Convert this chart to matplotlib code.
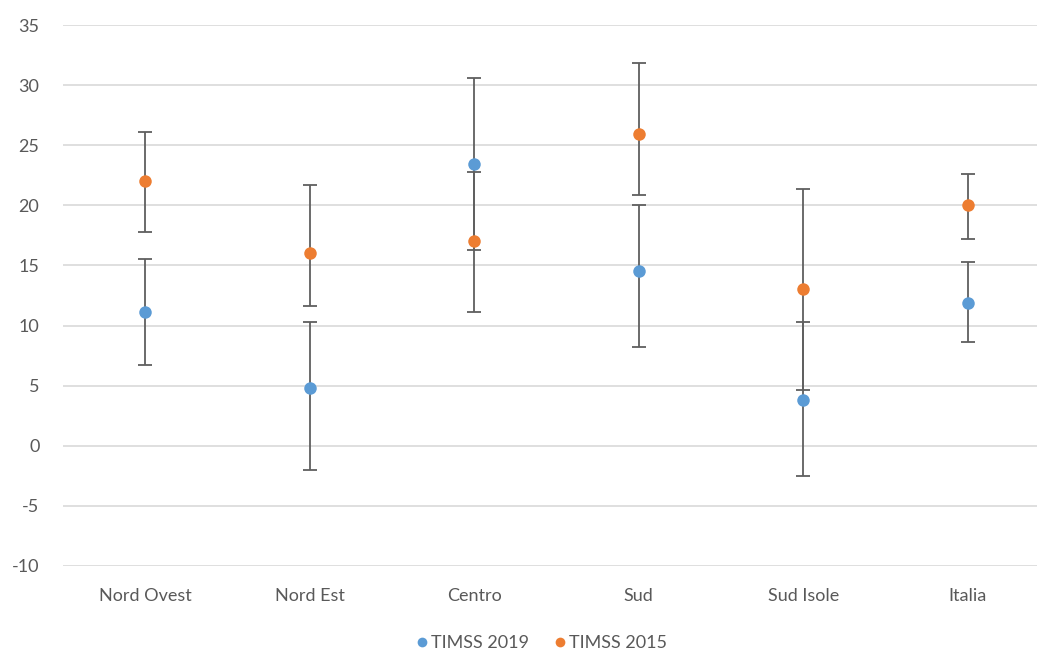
import matplotlib
matplotlib.use("Agg")
import matplotlib.pyplot as plt
import numpy as np

categories = ["Nord Ovest", "Nord Est", "Centro", "Sud", "Sud Isole", "Italia"]
t2019 = [11.1, 4.8, 23.4, 14.5, 3.8, 11.9]
t2019_hi = [15.5, 10.3, 30.6, 20.0, 10.3, 15.3]
t2019_lo = [6.7, -2.0, 16.3, 8.2, -2.5, 8.65]
t2015 = [22.0, 16.0, 17.0, 25.9, 13.0, 20.0]
t2015_hi = [26.1, 21.7, 22.8, 31.8, 21.4, 22.6]
t2015_lo = [17.8, 11.6, 11.15, 20.9, 4.6, 17.2]

plt.rcParams['font.family'] = ['Lato', 'DejaVu Sans']
plt.rcParams['axes.unicode_minus'] = False

fig = plt.figure(figsize=(10.37, 6.53), dpi=100)
ax = fig.add_axes([63/1037, 87/653, 987/1037, 541/653])

x = np.arange(len(categories))
blue = "#5B9BD5"
orange = "#ED7D31"
errc = "#5f5f5f"

def draw(vals, hi, lo, color, label):
    vals = np.array(vals); hi = np.array(hi); lo = np.array(lo)
    ax.errorbar(x, vals, yerr=[vals - lo, hi - vals], fmt='none',
                ecolor=errc, elinewidth=1.3, capsize=5, capthick=1.3, zorder=2)
    ax.plot(x, vals, 'o', color=color, markersize=9, markeredgewidth=0,
            label=label, zorder=3)

draw(t2019, t2019_hi, t2019_lo, blue, "TIMSS 2019")
draw(t2015, t2015_hi, t2015_lo, orange, "TIMSS 2015")

ax.set_xlim(-0.5, len(categories) - 0.5)
ax.set_ylim(-10, 35)
ax.set_yticks(np.arange(-10, 36, 5))
ax.set_xticks(x)
ax.set_xticklabels(categories)
ax.yaxis.grid(True, color="#d9d9d9", linewidth=1.2)
ax.set_axisbelow(True)
for s in ax.spines.values():
    s.set_visible(False)
ax.tick_params(axis='both', length=0, labelsize=13, labelcolor="#595959")
ax.tick_params(axis='x', pad=16)
ax.tick_params(axis='y', pad=17)

handles = [plt.Line2D([], [], marker='o', linestyle='', color=blue, markersize=7, markeredgewidth=0),
           plt.Line2D([], [], marker='o', linestyle='', color=orange, markersize=7, markeredgewidth=0)]
fig.legend(handles, ["TIMSS 2019", "TIMSS 2015"], loc='center', bbox_to_anchor=(540/1037, 1 - 643/653),
           ncol=2, frameon=False, fontsize=13, labelcolor="#595959", handletextpad=0.0,
           columnspacing=1.2, handlelength=1.0)

fig.savefig("out.png", dpi=100)
